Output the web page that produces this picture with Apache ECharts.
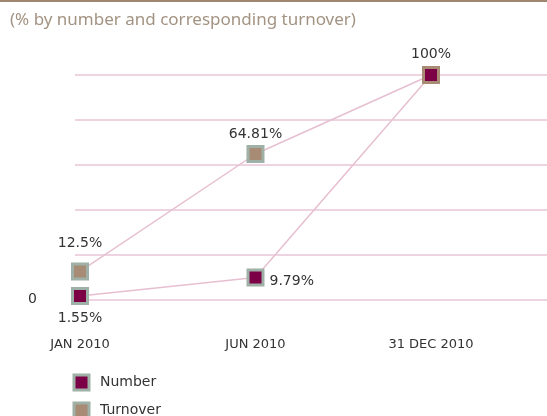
<!DOCTYPE html>
<html>
<head>
<meta charset="utf-8">
<script src="https://cdn.jsdelivr.net/npm/echarts@6/dist/echarts.min.js"></script>
<style>
html,body{margin:0;padding:0;background:#fff;}
#main{width:547px;height:416px;}
</style>
</head>
<body>
<div id="main"></div>
<script>
var categories = ['JAN 2010', 'JUN 2010', '31 DEC 2010'];
var numberValues = [1.55, 9.79, 100];
var turnoverValues = [12.5, 64.81, 100];
var yTicks = [0, 20, 40, 60, 80, 100];

var maroon = '#7b0045';
var brown = '#a88b75';
var frame = '#9fb0a6';
var lineCol = '#e6bfd0';

function pct(p) { return p.value[1] + '%'; }

// number series: label placement per point
var numberData = numberValues.map(function (v, i) {
    var d = { value: [i, v] };
    if (i === 0) d.label = { show: true, position: 'bottom', distance: 6 };
    if (i === 1) d.label = { show: true, position: 'right', distance: 5, offset: [0, 4] };
    if (i === 2) d.itemStyle = { borderColor: brown };
    return d;
});
var turnoverData = turnoverValues.map(function (v, i) {
    var dist = [12, 4, 5][i];
    return { value: [i, v], label: { show: true, position: 'top', distance: dist } };
});

// one legend block per series so they stack like the original
function legendBox(name, fill, top) {
    return {
        left: 72.5,
        top: top,
        padding: 0,
        itemWidth: 15,
        itemHeight: 15,
        textStyle: { color: '#333', fontSize: 14, padding: [0, 0, 0, 6] },
        data: [{ name: name, icon: 'rect', itemStyle: { color: fill, borderColor: frame, borderWidth: 3 } }]
    };
}

var option = {
    animation: false,
    textStyle: { fontFamily: 'DejaVu Sans' },
    title: {
        text: '(% by number and corresponding turnover)',
        left: 5,
        top: 7,
        textStyle: { color: '#a39382', fontSize: 17, fontWeight: 'normal', fontFamily: 'Noto Sans' }
    },
    graphic: [{
        type: 'line',
        shape: { x1: 0, y1: 1, x2: 547, y2: 1 },
        style: { stroke: '#a0876f', lineWidth: 2 }
    }],
    legend: [legendBox('Number', maroon, 373.5), legendBox('Turnover', brown, 401.5)],
    grid: { left: 75, right: 0, top: 75, bottom: 116.5 },
    xAxis: {
        type: 'value',
        min: -0.0285,
        max: 2.661,
        axisLine: { show: false },
        axisTick: { show: false },
        splitLine: { show: false },
        axisLabel: {
            customValues: [0, 1, 2],
            formatter: function (v) { return categories[Math.round(v)]; },
            margin: 39,
            color: '#333',
            fontSize: 13
        }
    },
    yAxis: {
        type: 'value',
        min: yTicks[0],
        max: yTicks[yTicks.length - 1],
        interval: 20,
        axisLine: { show: false },
        axisTick: { show: false },
        splitLine: { lineStyle: { color: '#e8c6d6', width: 1.5 } },
        axisLabel: {
            margin: 38,
            color: '#333',
            fontSize: 14,
            formatter: function (v) { return v === 0 ? '0' : ''; }
        }
    },
    series: [
        {
            name: 'Turnover',
            type: 'line',
            data: turnoverData,
            symbol: 'rect',
            symbolSize: 15,
            z: 2,
            lineStyle: { color: lineCol, width: 1.5 },
            itemStyle: { color: brown, borderColor: frame, borderWidth: 3 },
            label: { color: '#333', fontSize: 14, formatter: pct }
        },
        {
            name: 'Number',
            type: 'line',
            data: numberData,
            symbol: 'rect',
            symbolSize: 15,
            z: 3,
            lineStyle: { color: lineCol, width: 1.5 },
            itemStyle: { color: maroon, borderColor: frame, borderWidth: 3 },
            label: { color: '#333', fontSize: 14, formatter: pct }
        }
    ]
};

var myChart = echarts.init(document.getElementById('main'));
myChart.setOption(option);
</script>
</body>
</html>
